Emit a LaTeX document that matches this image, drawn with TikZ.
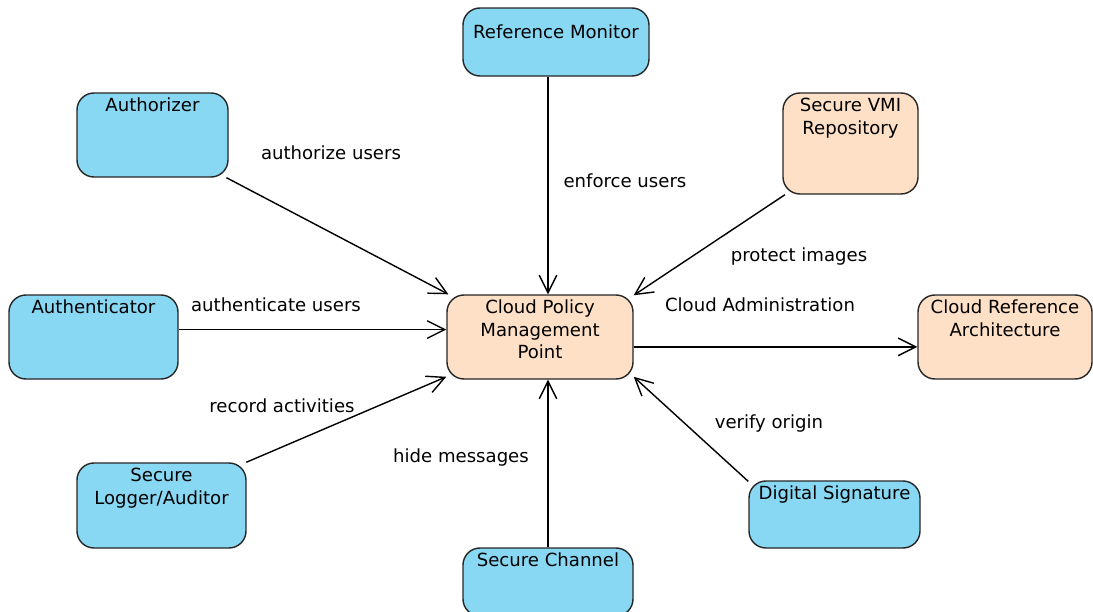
\documentclass[tikz,border=0pt]{standalone}
\usepackage{fontspec}
\setmainfont{DejaVu Sans}
\usepackage{tikz}
\usetikzlibrary{arrows.meta, calc}

\definecolor{skyblue}{HTML}{89D8F3}
\definecolor{peach}{HTML}{FDE0C6}
% box text sits at the top of the box
\newcommand{\boxtext}[4][10.6pt]{\parbox[c][\dimexpr0.02cm*#3\relax][t]{\dimexpr0.02cm*#2\relax}{\centering\rule{0pt}{#1}#4}}

\begin{document}
\begin{tikzpicture}[x=0.02cm, y=-0.02cm, >={Straight Barb[length=10pt, width=10pt]}, line width=0.8pt, every node/.style={font=\fontsize{10.3}{12.8}\selectfont}, part/.style={draw=black!85, rounded corners=0.34cm, inner sep=0pt, fill=skyblue}, core/.style={part, fill=peach}, lbl/.style={text height=7.5pt, text depth=2pt, inner sep=0pt} ]
			\useasboundingbox (0,0) rectangle (1093,612);
			\node[part]	(monitor)	at (556,42)		{\boxtext[17.4pt]{186}{68}{Reference Monitor}};
			\node[part]	(authorizer)	at (152.5,135)	{\boxtext{151}{84}{Authorizer}};
			\node[core]	(vmi)		at (850.5,143.5)	{\boxtext{135}{101}{Secure VMI\\Repository}};
			\node[part]	(authenticator)	at (93.5,337)	{\boxtext{169}{84}{Authenticator}};
			\node[core]	(policy)	at (540,337)		{\boxtext{186}{84}{Cloud Policy\\Management\\Point}};
			\node[core]	(cra)		at (1005,337)	{\boxtext{174}{84}{Cloud Reference\\Architecture}};
			\node[part]	(logger)	at (161.5,505.5)	{\boxtext{169}{85}{Secure\\Logger/Auditor}};
			\node[part]	(channel)	at (548,582)		{\boxtext{170}{68}{Secure Channel}};
			\node[part]	(signature)	at (834.5,514.5)	{\boxtext{171}{67}{Digital Signature}};
			
			%Ligações:
			%(Origem) edge (Destino)
			\path[->]
			(authorizer.330)			edge		(policy.155)
			(monitor.south -| channel)	edge		(policy.north -| channel)
			(vmi.218)					edge		(policy.24)
			(authenticator.5)			edge		(authenticator.5 -| policy.west)
			(policy.354)				edge		(policy.354 -| cra.west)
			(logger.27)				edge		(policy.203)
			(channel.north)			edge		(policy.south -| channel)
			(signature.159)			edge		(policy.337);
			
			%Rótulos:
			\node[lbl]	(l-authorize)	at (331,155)	{authorize users};
			\node[lbl]	(l-enforce)		at (625,183)	{enforce users};
			\node[lbl]	(l-protect)		at (799,257)	{protect images};
			\node[lbl]	(l-admin)		at (760,307)	{Cloud Administration};
			\node[lbl]	(l-authenticate)	at (276,307)	{authenticate users};
			\node[lbl]	(l-record)		at (282,408)	{record activities};
			\node[lbl]	(l-hide)		at (461,458)	{hide messages};
			\node[lbl]	(l-verify)		at (769,424)	{verify origin};
		\end{tikzpicture}
\end{document}
